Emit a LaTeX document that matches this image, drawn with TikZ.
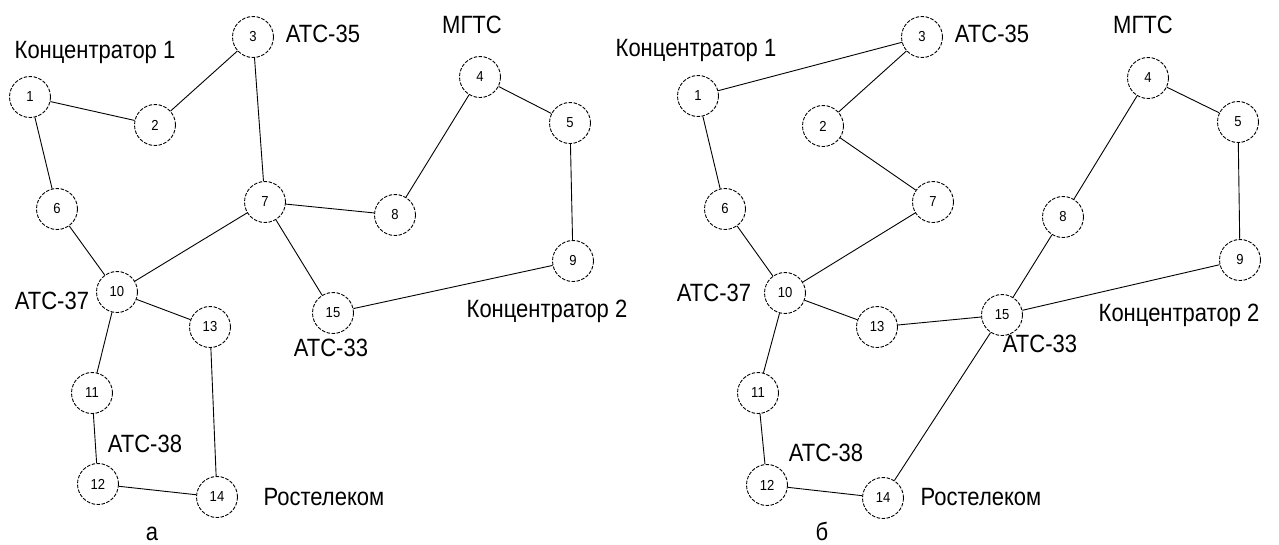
\documentclass[tikz,border=0pt]{standalone}
\usepackage{fontspec}
\setmainfont{Liberation Sans}
\newcommand{\lbltext}[1]{\scalebox{0.88}[1]{\fontsize{25}{27}\selectfont #1}}
\newcommand{\numtext}[1]{\scalebox{0.9}[1]{\fontsize{14.5}{15}\selectfont #1}}
\begin{document}
\begin{tikzpicture}[x=1pt,y=-1pt,
  vert/.style={circle,draw,line width=0.9pt,dash pattern=on 3.5pt off 1.5pt,minimum size=41pt,inner sep=0pt,fill=white},
  lbl/.style={inner sep=0pt},
  link/.style={line width=0.9pt}]
\useasboundingbox[fill=white] (0,0) rectangle (1279,544);
% ---------- diagram a ----------
\node[vert] (a1) at (30,97) {\numtext{1}};
\node[vert] (a2) at (155,125) {\numtext{2}};
\node[vert] (a3) at (253,37) {\numtext{3}};
\node[vert] (a4) at (480,77) {\numtext{4}};
\node[vert] (a5) at (570,123) {\numtext{5}};
\node[vert] (a6) at (57,209) {\numtext{6}};
\node[vert] (a7) at (265,202) {\numtext{7}};
\node[vert] (a8) at (395,215) {\numtext{8}};
\node[vert] (a9) at (573,261) {\numtext{9}};
\node[vert] (a10) at (117,292) {\numtext{10}};
\node[vert] (a11) at (92,393) {\numtext{11}};
\node[vert] (a12) at (98,484) {\numtext{12}};
\node[vert] (a13) at (210,327) {\numtext{13}};
\node[vert] (a14) at (217,497) {\numtext{14}};
\node[vert] (a15) at (333,313) {\numtext{15}};
\foreach \u/\v in {1/2,2/3,1/6,3/7,7/8,8/4,4/5,5/9,9/15,7/15,7/10,6/10,10/13,10/11,11/12,12/14,13/14}
  \draw[link] (a\u) -- (a\v);
\node[lbl] (ta1) at (95,52) {\lbltext{Концентратор 1}};
\node[lbl] (ta35) at (323,34) {\lbltext{АТС-35}};
\node[lbl] (tam) at (472,25) {\lbltext{МГТС}};
\node[lbl] (ta2) at (547,311) {\lbltext{Концентратор 2}};
\node[lbl] (ta37) at (52,301) {\lbltext{АТС-37}};
\node[lbl] (ta33) at (331,348) {\lbltext{АТС-33}};
\node[lbl] (ta38) at (145,444) {\lbltext{АТС-38}};
\node[lbl] (tar) at (324,497) {\lbltext{Ростелеком}};
\node[lbl] (tacap) at (152,534) {\lbltext{а}};
% ---------- diagram b ----------
\node[vert] (b1) at (698,96) {\numtext{1}};
\node[vert] (b2) at (823,126) {\numtext{2}};
\node[vert] (b3) at (922,37) {\numtext{3}};
\node[vert] (b4) at (1148,78) {\numtext{4}};
\node[vert] (b5) at (1238,122) {\numtext{5}};
\node[vert] (b6) at (725,209) {\numtext{6}};
\node[vert] (b7) at (933,202) {\numtext{7}};
\node[vert] (b8) at (1063,217) {\numtext{8}};
\node[vert] (b9) at (1240,260) {\numtext{9}};
\node[vert] (b10) at (785,293) {\numtext{10}};
\node[vert] (b11) at (758,393) {\numtext{11}};
\node[vert] (b12) at (767,485) {\numtext{12}};
\node[vert] (b13) at (877,327) {\numtext{13}};
\node[vert] (b14) at (883,498) {\numtext{14}};
\node[vert] (b15) at (1002,315) {\numtext{15}};
\foreach \u/\v in {1/3,3/2,2/7,1/6,6/10,7/10,10/13,13/15,15/9,15/8,8/4,4/5,5/9,15/14,10/11,11/12,12/14}
  \draw[link] (b\u) -- (b\v);
\node[lbl] (tb1) at (696,50) {\lbltext{Концентратор 1}};
\node[lbl] (tb35) at (992,34) {\lbltext{АТС-35}};
\node[lbl] (tbm) at (1143,25) {\lbltext{МГТС}};
\node[lbl] (tb2) at (1179,315) {\lbltext{Концентратор 2}};
\node[lbl] (tb37) at (714,293) {\lbltext{АТС-37}};
\node[lbl] (tb33) at (1040,344) {\lbltext{АТС-33}};
\node[lbl] (tb38) at (826,453) {\lbltext{АТС-38}};
\node[lbl] (tbr) at (981,497) {\lbltext{Ростелеком}};
\node[lbl] (tbcap) at (822,531) {\lbltext{б}};
\end{tikzpicture}
\end{document}
